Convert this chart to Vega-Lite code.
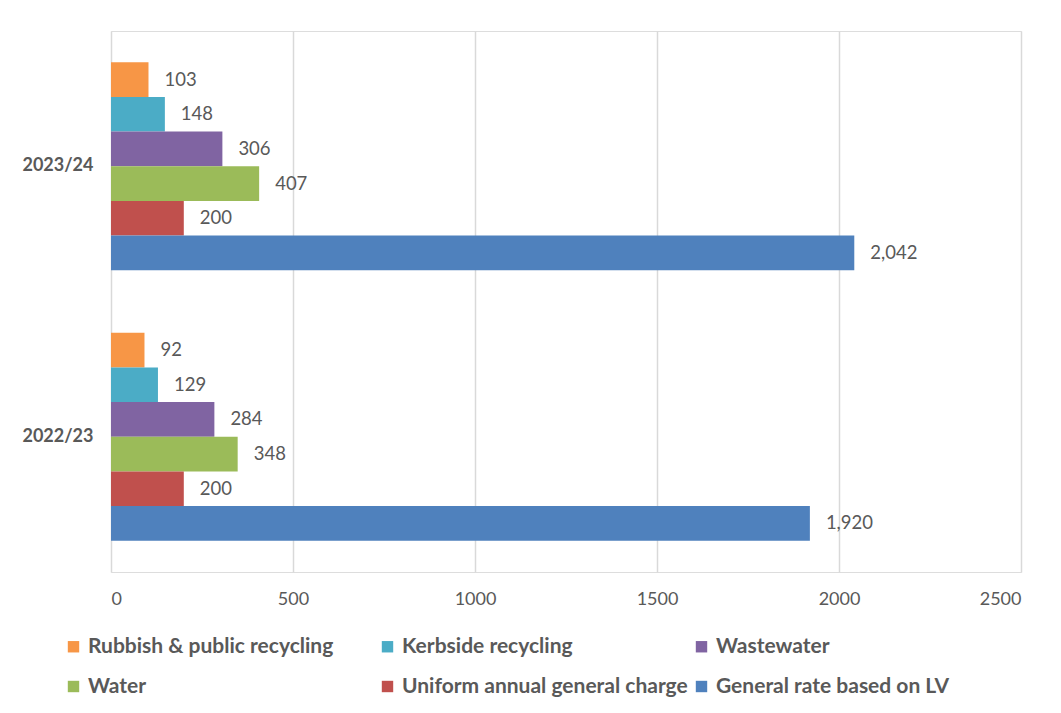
{
  "$schema": "https://vega.github.io/schema/vega-lite/v6.json",
  "width": 910,
  "height": 541,
  "autosize": {"type": "none"},
  "padding": {"left": 111, "top": 31, "right": 40, "bottom": 141},
  "background": "white",
  "data": {
    "values": [
      {"year": "2023/24", "series": "Rubbish & public recycling", "value": 103},
      {"year": "2023/24", "series": "Kerbside recycling", "value": 148},
      {"year": "2023/24", "series": "Wastewater", "value": 306},
      {"year": "2023/24", "series": "Water", "value": 407},
      {"year": "2023/24", "series": "Uniform annual general charge", "value": 200},
      {"year": "2023/24", "series": "General rate based on LV", "value": 2042},
      {"year": "2022/23", "series": "Rubbish & public recycling", "value": 92},
      {"year": "2022/23", "series": "Kerbside recycling", "value": 129},
      {"year": "2022/23", "series": "Wastewater", "value": 284},
      {"year": "2022/23", "series": "Water", "value": 348},
      {"year": "2022/23", "series": "Uniform annual general charge", "value": 200},
      {"year": "2022/23", "series": "General rate based on LV", "value": 1920}
    ]
  },
  "encoding": {
    "y": {
      "field": "year",
      "type": "nominal",
      "sort": ["2023/24", "2022/23"],
      "scale": {"paddingInner": 0, "paddingOuter": 0},
      "axis": {
        "title": null,
        "domain": false,
        "ticks": false,
        "labelPadding": 18,
        "labelFont": "Lato",
        "labelFontSize": 18,
        "labelFontWeight": "bold",
        "labelColor": "#595959"
      }
    },
    "yOffset": {
      "field": "series",
      "type": "nominal",
      "sort": ["Rubbish & public recycling", "Kerbside recycling", "Wastewater", "Water", "Uniform annual general charge", "General rate based on LV"],
      "scale": {"paddingInner": 0, "paddingOuter": 0.9}
    },
    "x": {
      "field": "value",
      "type": "quantitative",
      "scale": {"domain": [0, 2500], "nice": false},
      "axis": {
        "title": null,
        "values": [0, 500, 1000, 1500, 2000, 2500],
        "format": "d",
        "domain": false,
        "ticks": false,
        "grid": true,
        "gridColor": "#D9D9D9",
        "gridWidth": 1.5,
        "labelPadding": 18,
        "labelFont": "Lato",
        "labelFontSize": 18,
        "labelColor": "#595959"
      }
    }
  },
  "layer": [
    {
      "mark": {"type": "bar"},
      "encoding": {
        "color": {
          "field": "series",
          "type": "nominal",
          "sort": ["Rubbish & public recycling", "Kerbside recycling", "Wastewater", "Water", "Uniform annual general charge", "General rate based on LV"],
          "scale": {
            "domain": ["Rubbish & public recycling", "Kerbside recycling", "Wastewater", "Water", "Uniform annual general charge", "General rate based on LV"],
            "range": ["#F79646", "#4BACC6", "#8064A2", "#9BBB59", "#C0504D", "#4F81BD"]
          },
          "legend": {
            "title": null,
            "orient": "none",
            "legendX": -48,
            "legendY": 605,
            "direction": "horizontal",
            "columns": 3,
            "gridAlign": "all",
            "columnPadding": 3,
            "rowPadding": 18,
            "symbolType": "square",
            "symbolSize": 130,
            "symbolStrokeWidth": 0,
            "labelFont": "Lato",
            "labelFontSize": 21,
            "labelFontWeight": "bold",
            "labelColor": "#595959",
            "labelLimit": 400,
            "labelOffset": 4
          }
        }
      }
    },
    {
      "mark": {"type": "text", "align": "left", "dx": 16, "font": "Lato", "fontSize": 18.5, "color": "#595959"},
      "encoding": {
        "text": {"field": "value", "type": "quantitative", "format": ","}
      }
    }
  ]
}
